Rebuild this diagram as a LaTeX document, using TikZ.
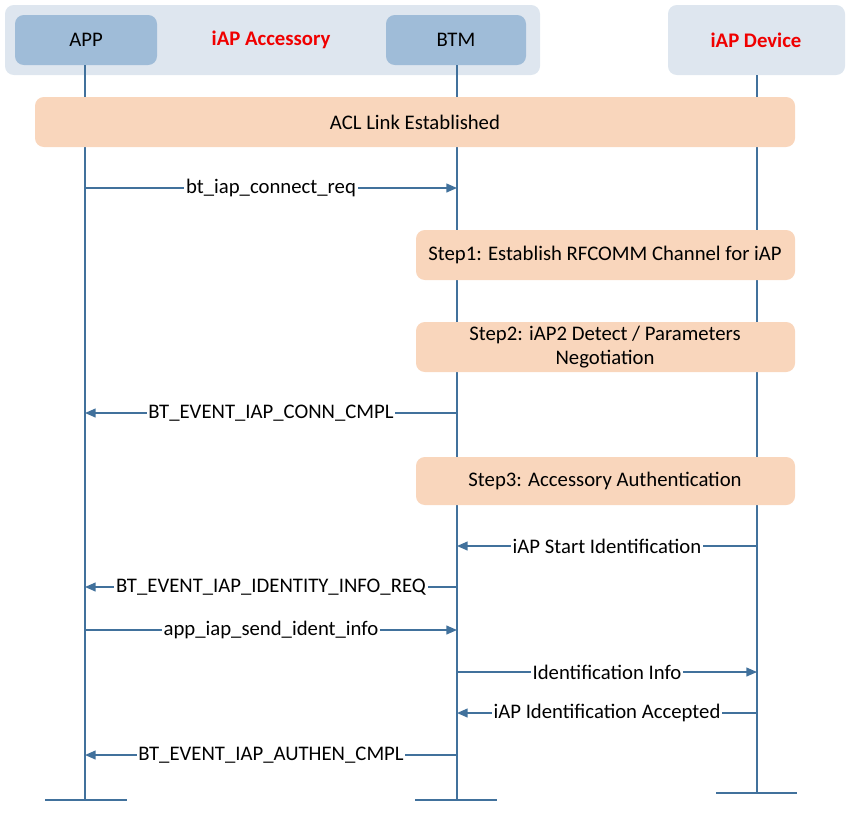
\documentclass[tikz,border=0pt]{standalone}
\usepackage{fontspec}
\setmainfont{Carlito}
\usetikzlibrary{arrows.meta}

\definecolor{grpfill}{HTML}{DEE6EF}
\definecolor{boxfill}{HTML}{9FBCD8}
\definecolor{stepfill}{HTML}{F9D6BC}
\definecolor{linecol}{HTML}{41719C}
\definecolor{titlered}{HTML}{F00000}

\tikzset{
	grp/.style={fill=grpfill, draw=none, rounded corners=5pt},
	ent/.style={fill=boxfill, draw=none, rounded corners=5pt},
	phase/.style={fill=stepfill, draw=none, rounded corners=5pt},
	life/.style={draw=linecol, line width=0.8pt},
	msg/.style={draw=linecol, line width=0.8pt, -{Triangle[length=6pt, width=5pt]}},
	lbl/.style={fill=white, inner sep=1pt, font=\fontsize{11.8}{13.5}\selectfont},
	txt/.style={font=\fontsize{11.8}{13.5}\selectfont, align=center},
}

\begin{document}
\begin{tikzpicture}[x=0.02cm, y=-0.02cm]

	\useasboundingbox (0,0) rectangle (858,815);

	% heads
	\fill[grp] (5,5) rectangle (540,75);
	\fill[grp] (668,5) rectangle (845,75);
	\fill[ent] (15,15) rectangle (157,65);
	\fill[ent] (386,15) rectangle (526,65);
	\node[txt] (apphead) at (86,40) {APP};
	\node[txt] (btmhead) at (456,40) {BTM};
	\node[txt, text=titlered, font=\fontsize{11.8}{13.5}\selectfont\bfseries] (acc) at (271,40) {iAP Accessory};
	\node[txt, text=titlered, font=\fontsize{11.8}{13.5}\selectfont\bfseries] (devhead) at (756,40) {iAP Device};

	% lifelines
	\coordinate (app) at (85,65);
	\coordinate (btm) at (457,65);
	\coordinate (dev) at (757,75);
	\coordinate (append) at (85,800);
	\coordinate (btmend) at (457,800);
	\coordinate (devend) at (757,793);
	\draw[life] (app) -- (append);
	\draw[life] (btm) -- (btmend);
	\draw[life] (dev) -- (devend);
	\draw[life] (45,800) -- (127,800);
	\draw[life] (415,800) -- (497,800);
	\draw[life] (716,793) -- (797,793);

	% phases
	\fill[phase] (35,97) rectangle (795,147);
	\node[txt] (acl) at (415,122) {ACL Link Established};
	\fill[phase] (416,230) rectangle (795,280);
	\node[txt] (step1) at (605,255) {Step1: Establish RFCOMM Channel for iAP};
	\fill[phase] (416,322) rectangle (795,372);
	\node[txt] (step2) at (605,347) {Step2: iAP2 Detect / Parameters\\Negotiation};
	\fill[phase] (416,457) rectangle (795,505);
	\node[txt] (step3) at (605,481) {Step3: Accessory Authentication};

	% messages
	\coordinate (r1) at (0,188);
	\coordinate (r2) at (0,413);
	\coordinate (r3) at (0,546);
	\coordinate (r4) at (0,587);
	\coordinate (r5) at (0,630);
	\coordinate (r6) at (0,672);
	\coordinate (r7) at (0,713);
	\coordinate (r8) at (0,755);

	\draw[msg] (app |- r1) -- node[lbl] {bt\_iap\_connect\_req} (btm |- r1);
	\draw[msg] (btm |- r2) -- node[lbl] {BT\_EVENT\_IAP\_CONN\_CMPL} (app |- r2);
	\draw[msg] (dev |- r3) -- node[lbl] {iAP Start Identification} (btm |- r3);
	\draw[msg] (btm |- r4) -- node[lbl] {BT\_EVENT\_IAP\_IDENTITY\_INFO\_REQ} (app |- r4);
	\draw[msg] (app |- r5) -- node[lbl] {app\_iap\_send\_ident\_info} (btm |- r5);
	\draw[msg] (btm |- r6) -- node[lbl] {Identification Info} (dev |- r6);
	\draw[msg] (dev |- r7) -- node[lbl] {iAP Identification Accepted} (btm |- r7);
	\draw[msg] (btm |- r8) -- node[lbl] {BT\_EVENT\_IAP\_AUTHEN\_CMPL} (app |- r8);

\end{tikzpicture}
\end{document}
